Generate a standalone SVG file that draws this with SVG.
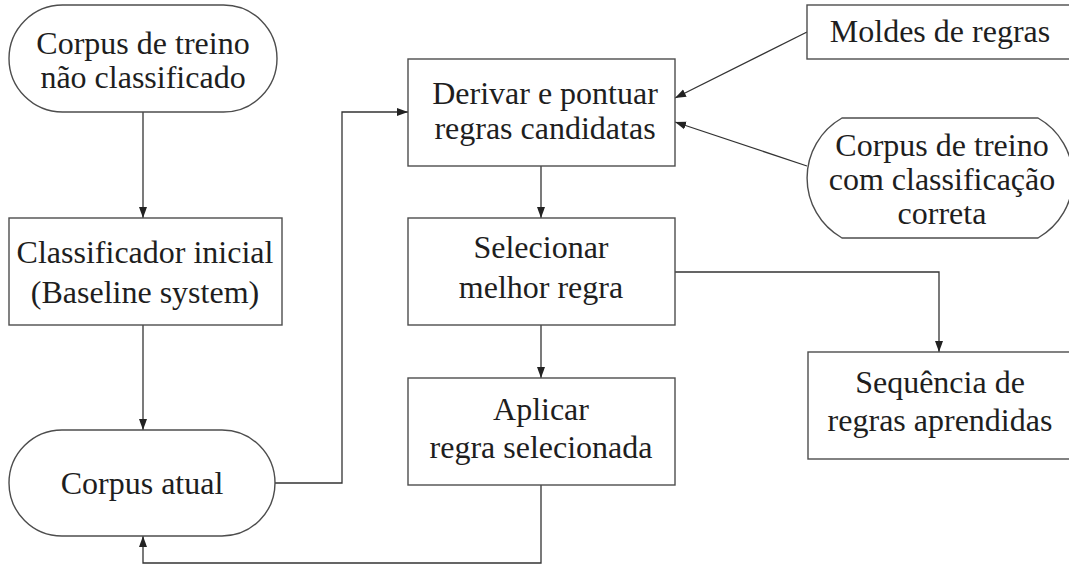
<svg xmlns="http://www.w3.org/2000/svg" width="1069" height="566" viewBox="0 0 1069 566">
  <style>
    .shape { fill: #ffffff; stroke: #4d4d4d; stroke-width: 1.4; }
    .wire { fill: none; stroke: #333333; stroke-width: 1.3; }
    text { font-family: "Liberation Serif", "Times New Roman", serif; font-size: 32px; fill: #1e1e1e; text-anchor: middle; }
  </style>
  <defs>
    <marker id="arrow" markerUnits="userSpaceOnUse" markerWidth="12" markerHeight="10" viewBox="0 0 12 10" refX="11" refY="5" orient="auto">
      <path d="M0,1 L11,5 L0,9 Z" fill="#222222"/>
    </marker>
  </defs>

  <rect width="1069" height="566" fill="#ffffff"/>

  <!-- connectors -->
  <g id="connectors">
    <path class="wire" d="M143,112 V218" marker-end="url(#arrow)"/>
    <path class="wire" d="M143,325 V430" marker-end="url(#arrow)"/>
    <path class="wire" d="M275,483 H342 V112 H408" marker-end="url(#arrow)"/>
    <path class="wire" d="M541,166 V218" marker-end="url(#arrow)"/>
    <path class="wire" d="M541,325 V378" marker-end="url(#arrow)"/>
    <path class="wire" d="M541,485 V563 H143 V536" marker-end="url(#arrow)"/>
    <path class="wire" d="M675,272 H939 V352" marker-end="url(#arrow)"/>
    <path class="wire" d="M807,32 L675,98" marker-end="url(#arrow)"/>
    <path class="wire" d="M807,166 L675,122" marker-end="url(#arrow)"/>
  </g>

  <!-- unlabelled training corpus -->
  <g id="corpus-nao-classificado">
    <path class="shape" d="M62.5,5 H223.5 A53.5,53.5 0 0 1 223.5,112 H62.5 A53.5,53.5 0 0 1 62.5,5 Z"/>
    <text x="143" y="54">Corpus de treino</text>
    <text x="143" y="88">não classificado</text>
  </g>

  <!-- baseline classifier -->
  <g id="classificador-inicial">
    <rect class="shape" x="9" y="218" width="273" height="107"/>
    <text x="145" y="263">Classificador inicial</text>
    <text x="145" y="303">(Baseline system)</text>
  </g>

  <!-- current corpus -->
  <g id="corpus-atual">
    <path class="shape" d="M62,430 H222 A53,53 0 0 1 222,536 H62 A53,53 0 0 1 62,430 Z"/>
    <text x="142" y="494">Corpus atual</text>
  </g>

  <!-- derive and score candidate rules -->
  <g id="derivar">
    <rect class="shape" x="408" y="59" width="267" height="107"/>
    <text x="545" y="104">Derivar e pontuar</text>
    <text x="545" y="139">regras candidatas</text>
  </g>

  <!-- select best rule -->
  <g id="selecionar">
    <rect class="shape" x="408" y="218" width="267" height="107"/>
    <text x="541" y="258">Selecionar</text>
    <text x="541" y="298">melhor regra</text>
  </g>

  <!-- apply selected rule -->
  <g id="aplicar">
    <rect class="shape" x="408" y="378" width="267" height="107"/>
    <text x="541" y="420">Aplicar</text>
    <text x="541" y="458">regra selecionada</text>
  </g>

  <!-- learned rule sequence -->
  <g id="sequencia">
    <rect class="shape" x="808" y="352" width="270" height="107"/>
    <text x="940" y="393">Sequência de</text>
    <text x="940" y="431">regras aprendidas</text>
  </g>

  <!-- rule templates -->
  <g id="moldes">
    <rect class="shape" x="807" y="5" width="270" height="54"/>
    <text x="940" y="42">Moldes de regras</text>
  </g>

  <!-- correctly tagged training corpus -->
  <g id="corpus-correto">
    <path class="shape" d="M842,118 H1038 A69,69 0 0 1 1038,238 H842 A69,69 0 0 1 842,118 Z"/>
    <text x="942" y="156">Corpus de treino</text>
    <text x="942" y="190">com classificação</text>
    <text x="942" y="224">correta</text>
  </g>
</svg>
